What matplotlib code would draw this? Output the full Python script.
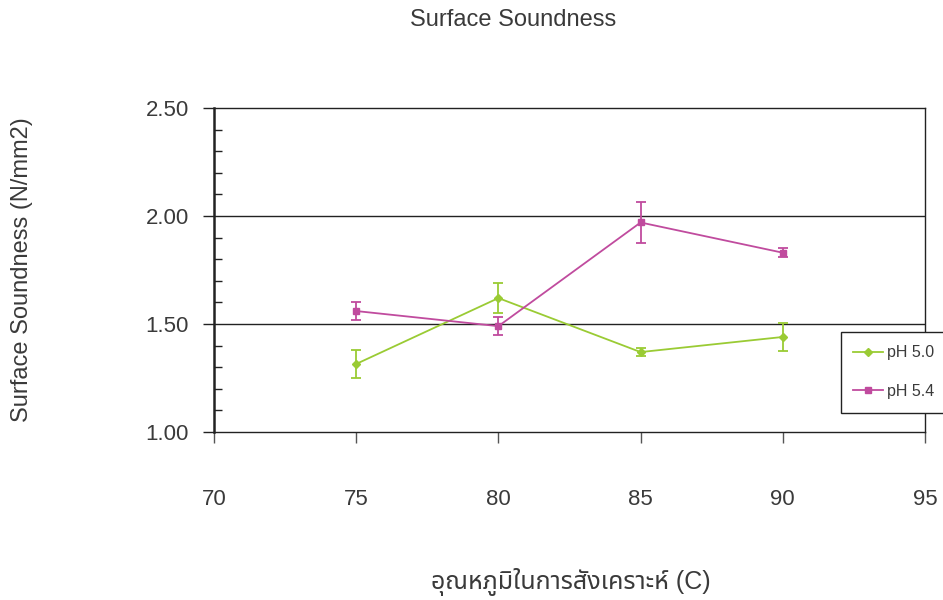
import matplotlib

matplotlib.use("Agg")
import matplotlib.pyplot as plt
from matplotlib.lines import Line2D
from matplotlib.patches import Rectangle
from matplotlib.ticker import MultipleLocator, FixedLocator

plt.rcParams["font.family"] = ["Liberation Sans", "Noto Sans Thai", "DejaVu Sans"]

# synthesis temperature (C) and mean surface soundness with std-dev bars
temps = [75, 80, 85, 90]
ph50 = [1.315, 1.62, 1.37, 1.44]
ph50_err = [0.063, 0.07, 0.02, 0.063]
ph54 = [1.56, 1.49, 1.97, 1.83]
ph54_err = [0.043, 0.043, 0.095, 0.02]
series_labels = ["pH 5.0", "pH 5.4"]

x_ticks = [70, 75, 80, 85, 90, 95]
y_ticks = [1.00, 1.50, 2.00, 2.50]

GREEN = "#9ACB34"
MAGENTA = "#C04B9E"
INK = "#222222"
TEXT = "#3a3a3a"

fig = plt.figure(figsize=(9.43, 6), dpi=100)
W, H = 943, 600
ax = fig.add_axes([214 / W, 1 - 432 / H, (925 - 214) / W, (432 - 108) / H])

styles = [dict(color=GREEN, marker="D", markersize=4),
          dict(color=MAGENTA, marker="s", markersize=5)]
for ys, errs, st in zip([ph50, ph54], [ph50_err, ph54_err], styles):
    ax.errorbar(temps, ys, yerr=errs, lw=1.3, elinewidth=1.3, capsize=3.5,
                capthick=1.3, zorder=4, **st)

ax.set_xlim(70, 95)
ax.set_ylim(1.0, 2.5)
ax.xaxis.set_major_locator(FixedLocator(x_ticks))
ax.yaxis.set_major_locator(FixedLocator(y_ticks))
ax.yaxis.set_minor_locator(MultipleLocator(0.1))
ax.set_yticklabels([f"{v:.2f}" for v in y_ticks])

for y in (1.5, 2.0):
    ax.axhline(y, color=INK, lw=1.0, zorder=1)

for side in ("top", "right", "bottom"):
    ax.spines[side].set_color(INK)
    ax.spines[side].set_linewidth(1.0)
ax.spines["left"].set_color(INK)
ax.spines["left"].set_linewidth(1.8)

ax.tick_params(axis="y", which="major", direction="out", length=8, width=1.0,
               color=INK, pad=10, labelsize=16, labelcolor=TEXT)
ax.tick_params(axis="y", which="minor", direction="in", length=6, width=1.0, color=INK)
ax.tick_params(axis="x", which="major", direction="out", length=8, width=1.0,
               color="#555555", pad=33, labelsize=16, labelcolor=TEXT)

fig.text(513 / W, 1 - 20 / H, "Surface Soundness", ha="center", va="center",
         fontsize=17, color=TEXT)
fig.text(22 / W, 1 - 270 / H, "Surface Soundness (N/mm2)", ha="center", va="center",
         rotation=90, fontsize=17, color=TEXT)
fig.text(571 / W, 1 - 582 / H, "อุณหภูมิในการสังเคราะห์ (C)", ha="center", va="center",
         fontsize=18, color=TEXT)

# legend box runs off the right edge of the figure
fig.add_artist(Rectangle((841 / W, 1 - 413 / H), 130 / W, 81 / H,
                         transform=fig.transFigure, facecolor="white",
                         edgecolor=INK, lw=1.0, clip_on=False, zorder=5))
handles = [Line2D([], [], lw=1.3, **st) for st in styles]
leg = fig.legend(handles, series_labels, loc="center left",
                 bbox_to_anchor=(853 / W, 1 - 372 / H), frameon=False,
                 fontsize=11.5, handlelength=1.9, handletextpad=0.25,
                 labelspacing=1.45, borderaxespad=0, borderpad=0, labelcolor=TEXT)
leg.set_zorder(6)

fig.savefig("out.png", dpi=100)
plt.close(fig)
